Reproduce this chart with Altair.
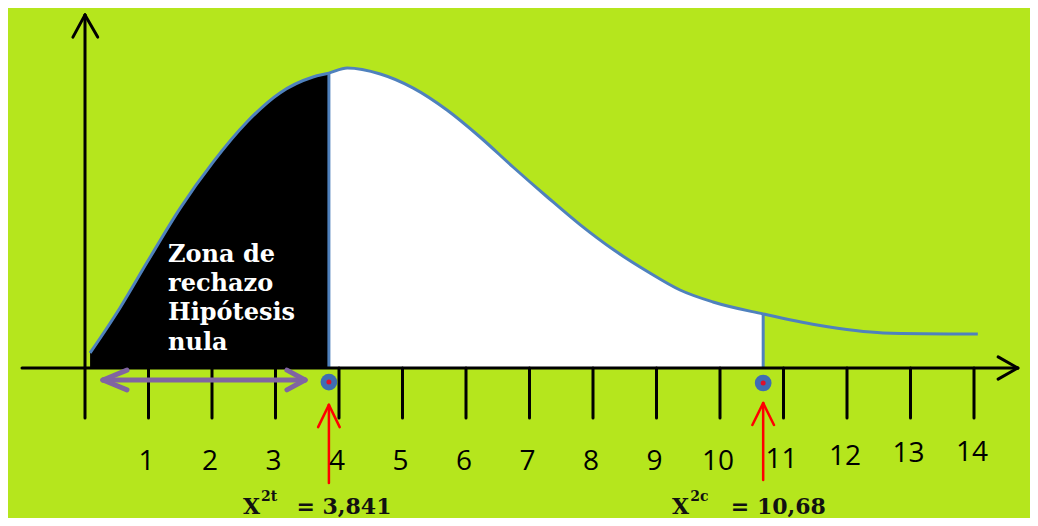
import altair as alt
import pandas as pd

# ---------------- data ----------------
curve_x = [0.08, 0.55, 0.98, 1.50, 2.02, 2.55, 3.07, 3.59, 3.841, 4.13, 4.65, 5.17,
           5.70, 6.22, 6.74, 7.28, 7.80, 8.33, 8.87, 9.37, 9.89, 10.68, 11.53, 12.57, 14.06]
curve_y = [0.05, 0.20, 0.353, 0.533, 0.687, 0.82, 0.917, 0.97, 0.983, 1.00, 0.98, 0.933,
           0.86, 0.77, 0.67, 0.57, 0.477, 0.393, 0.32, 0.26, 0.22, 0.18, 0.143, 0.117, 0.113]

chi_t = 3.841      # X^2 tabla
chi_c = 10.68      # X^2 calculado
divider_top = [0.983, 0.18]

tick_values = list(range(1, 15))
tick_labels = [str(v) for v in tick_values]
tick_label_y = [-0.313, -0.313, -0.313, -0.313, -0.313, -0.313, -0.313, -0.313,
                -0.313, -0.313, -0.307, -0.297, -0.287, -0.283]

zona_lines = ["Zona de", "rechazo", "Hipótesis", "nula"]
zona_y = [0.353, 0.257, 0.16, 0.06]
zona_x = 1.307

# ---------------- scales ----------------
XMIN, XMAX = -1.2126, 14.8819
YMIN, YMAX = -0.5, 1.2
xs = alt.Scale(domain=[XMIN, XMAX], nice=False, zero=False)
ys = alt.Scale(domain=[YMIN, YMAX], nice=False, zero=False)

BLUE = "#4F81BD"
GREEN = "#B5E61D"
INTERP = "monotone"

curve = pd.DataFrame({"x": curve_x, "y": curve_y})

def X(field="x"):
    return alt.X(field, type="quantitative", scale=xs, axis=None)

def Y(field="y"):
    return alt.Y(field, type="quantitative", scale=ys, axis=None)

base = alt.Chart(curve)

black_area = base.mark_area(color="black", interpolate=INTERP).encode(
    x=X(), y=Y(), y2=alt.datum(0)
).transform_filter(alt.datum.x <= chi_t)

white_area = base.mark_area(color="white", interpolate=INTERP).encode(
    x=X(), y=Y(), y2=alt.datum(0)
).transform_filter((alt.datum.x >= chi_t) & (alt.datum.x <= chi_c))

line = base.mark_line(color=BLUE, strokeWidth=3, interpolate=INTERP).encode(x=X(), y=Y())

dividers = alt.Chart(pd.DataFrame({"x": [chi_t, chi_c], "y": divider_top, "y0": [0, 0]})).mark_rule(
    color=BLUE, strokeWidth=3
).encode(x=X(), y=Y(), y2="y0:Q")

# axis lines, ticks and arrow heads (data units)
y_axis_top, y_axis_bottom = 1.177, -0.167
x_axis_left, x_axis_right = -0.992, 14.69
black_segs = pd.DataFrame({
    "x":  [0, 0, 0, x_axis_left, x_axis_right, x_axis_right] + tick_values,
    "y":  [y_axis_bottom, y_axis_top, y_axis_top, 0, 0, 0] + [0] * len(tick_values),
    "x2": [0, -0.19, 0.2, x_axis_right, 14.38, 14.38] + tick_values,
    "y2": [y_axis_top, 1.103, 1.103, 0, 0.037, -0.037] + [y_axis_bottom] * len(tick_values),
})
axes = alt.Chart(black_segs).mark_rule(color="black", strokeWidth=3, strokeCap="round").encode(
    x=X(), y=Y(), x2="x2:Q", y2="y2:Q"
)

pa_y = -0.04
purple_segs = pd.DataFrame({
    "x":  [0.283, 0.283, 0.283, 3.465, 3.465],
    "y":  [pa_y, pa_y, pa_y, pa_y, pa_y],
    "x2": [3.465, 0.661, 0.661, 3.18, 3.18],
    "y2": [pa_y, -0.007, -0.073, -0.007, -0.073],
})
purple = alt.Chart(purple_segs).mark_rule(color="#8064A2", strokeWidth=5, strokeCap="round").encode(
    x=X(), y=Y(), x2="x2:Q", y2="y2:Q"
)

red_segs = pd.DataFrame({
    "x":  [chi_t, chi_t, chi_t, chi_c, chi_c, chi_c],
    "y":  [-0.383, -0.123, -0.123, -0.373, -0.117, -0.117],
    "x2": [chi_t, chi_t - 0.17, chi_t + 0.17, chi_c, chi_c - 0.17, chi_c + 0.17],
    "y2": [-0.123, -0.197, -0.197, -0.117, -0.19, -0.19],
})
red = alt.Chart(red_segs).mark_rule(color="#FF0000", strokeWidth=2.5, strokeCap="round").encode(
    x=X(), y=Y(), x2="x2:Q", y2="y2:Q"
)

dots_df = pd.DataFrame({"x": [chi_t, chi_c], "y": [-0.047, -0.05]})
dots_outer = alt.Chart(dots_df).mark_point(
    shape="circle", filled=True, size=280, color="#3F6DB3", opacity=1
).encode(x=X(), y=Y())
dots_inner = alt.Chart(dots_df).mark_point(
    shape="circle", filled=True, size=25, color="#E0102A", opacity=1
).encode(x=X(), y=Y())

labels_df = pd.DataFrame({"x": tick_values, "y": tick_label_y, "t": tick_labels})
tick_text = alt.Chart(labels_df).mark_text(
    font="Open Sans", fontSize=28, color="black", dx=-2, baseline="middle", align="center"
).encode(x=X(), y=Y(), text="t:N")

zona_df = pd.DataFrame({"x": [zona_x] * 4, "y": zona_y, "t": zona_lines})
zona = alt.Chart(zona_df).mark_text(
    font="DejaVu Serif", fontWeight="bold", fontSize=24, color="white", align="left",
    baseline="alphabetic"
).encode(x=X(), y=Y(), text="t:N")

crit_df = pd.DataFrame({
    "x": [2.488, 3.33, 9.244, 10.17],
    "y": [-0.485, -0.485, -0.485, -0.485],
    "t": ["X", "= 3,841", "X", "= 10,68"],
})
crit = alt.Chart(crit_df).mark_text(
    font="DejaVu Serif", fontWeight="bold", fontSize=22, color="#111111", align="left",
    baseline="alphabetic"
).encode(x=X(), y=Y(), text="t:N")

sup_df = pd.DataFrame({"x": [2.77, 9.53], "y": [-0.443, -0.443], "t": ["2t", "2c"]})
sup = alt.Chart(sup_df).mark_text(
    font="DejaVu Serif", fontWeight="bold", fontSize=14, color="#111111", align="left",
    baseline="alphabetic"
).encode(x=X(), y=Y(), text="t:N")

chart = alt.layer(
    black_area, white_area, line, dividers, axes, purple, red,
    dots_outer, dots_inner, tick_text, zona, crit, sup
).properties(
    width=1022, height=510, background=GREEN, padding=0, autosize="none"
).configure_view(stroke=None)

chart.save("out.html", embed_options={"renderer": "svg", "actions": False})
